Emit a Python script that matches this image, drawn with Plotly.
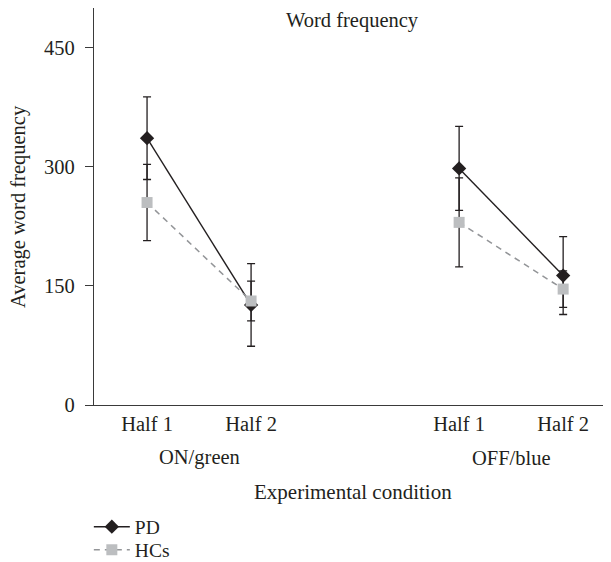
import plotly.graph_objects as go

# Data
positions = [0, 1, 3, 4]
half_labels = ["Half 1", "Half 2", "Half 1", "Half 2"]
conditions = ["ON/green", "OFF/blue"]
pd_mean = [336, 126, 298, 163]
pd_err = [52, 52, 53, 49]
hc_mean = [255, 131, 230, 146]
hc_err = [48, 25, 56, 23]
y_ticks = [0, 150, 300, 450]

FONT = "Liberation Serif"
FS = 20.5
TXT = "#231f20"
AX = "#3a3a3a"

fig = go.Figure()

def add_pd(idx, show):
    fig.add_trace(go.Scatter(
        x=[positions[i] for i in idx], y=[pd_mean[i] for i in idx], mode="lines+markers",
        name="PD", legendgroup="pd", showlegend=show, legend="legend",
        line=dict(color=TXT, width=1.4),
        marker=dict(symbol="diamond", size=11, color=TXT),
        error_y=dict(type="data", array=[pd_err[i] for i in idx], color=TXT, thickness=1.3, width=4),
    ))

def add_hc(idx, show):
    fig.add_trace(go.Scatter(
        x=[positions[i] for i in idx], y=[hc_mean[i] for i in idx], mode="lines+markers",
        name="HCs", legendgroup="hc", showlegend=show, legend="legend2",
        line=dict(color="#939598", width=1.5, dash="6px,5px"),
        marker=dict(symbol="square", size=11, color="#bcbec0"),
        error_y=dict(type="data", array=[hc_err[i] for i in idx], color=TXT, thickness=1.3, width=4),
    ))

add_pd([0, 1], True)
add_pd([2, 3], False)
add_hc([0, 1], True)
add_hc([2, 3], False)

legend_common = dict(xanchor="left", yanchor="middle",
                     font=dict(family=FONT, size=19.5, color=TXT),
                     bgcolor="rgba(0,0,0,0)", tracegroupgap=0, itemwidth=36)

fig.update_layout(
    width=603, height=554,
    margin=dict(l=86, r=0, t=0, b=157, autoexpand=False),
    paper_bgcolor="white", plot_bgcolor="white",
    font=dict(family=FONT, size=FS, color=TXT),
    showlegend=True,
    legend=dict(x=-0.01, y=-(527 - 8 - 397) / 397, **legend_common),
    legend2=dict(x=-0.01, y=-(550 - 8 - 397) / 397, **legend_common),
    xaxis=dict(range=[-0.51, 4.46], tickvals=positions, ticktext=half_labels,
               showline=True, linecolor=AX, linewidth=1.3, ticklabelstandoff=0,
               showgrid=False, zeroline=False, ticks="",
               tickfont=dict(family=FONT, size=FS, color=TXT)),
    yaxis=dict(range=[0, 500], tickvals=y_ticks, showline=True, linecolor=AX, linewidth=1.3,
               ticks="outside", ticklen=8, tickcolor=AX, tickwidth=1.3, showgrid=False,
               zeroline=False, ticklabelstandoff=6,
               tickfont=dict(family=FONT, size=FS, color=TXT)),
    annotations=[
        dict(text="Word frequency", xref="paper", yref="paper", x=0.5, y=(397 - 12.5) / 397,
             yanchor="middle", showarrow=False, font=dict(family=FONT, size=FS, color=TXT)),
        dict(text="Average word frequency", xref="paper", yref="paper", x=-0.146, y=0.5,
             xanchor="center", yanchor="middle", textangle=-90, showarrow=False,
             font=dict(family=FONT, size=FS, color=TXT)),
        dict(text=conditions[0], xref="x", yref="paper", x=0.5, y=-0.1335, yanchor="middle",
             showarrow=False, font=dict(family=FONT, size=FS, color=TXT)),
        dict(text=conditions[1], xref="x", yref="paper", x=3.5, y=-0.1335, yanchor="middle",
             showarrow=False, font=dict(family=FONT, size=FS, color=TXT)),
        dict(text="Experimental condition", xref="paper", yref="paper", x=0.5, y=-0.219,
             yanchor="middle", showarrow=False, font=dict(family=FONT, size=21, color=TXT)),
    ],
)

fig.write_html("out.html")
